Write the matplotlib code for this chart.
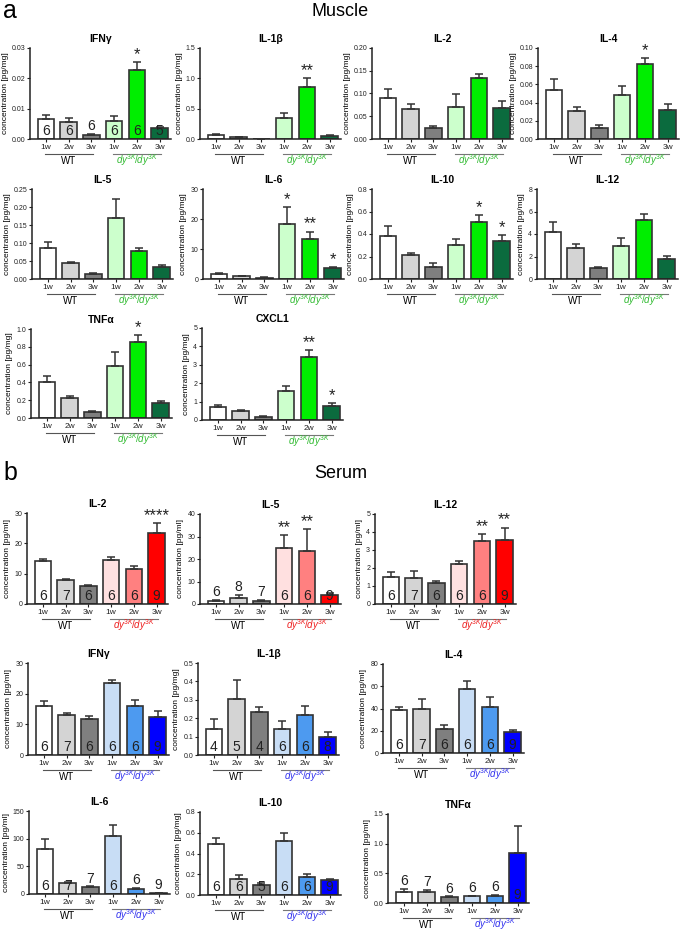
import matplotlib
matplotlib.use("Agg")
import matplotlib.pyplot as plt
from matplotlib.transforms import offset_copy

plt.rcParams['font.family'] = ['Liberation Sans', 'DejaVu Sans']
plt.rcParams['mathtext.fontset'] = 'custom'
plt.rcParams['mathtext.rm'] = 'Liberation Sans'
plt.rcParams['mathtext.it'] = 'Liberation Sans:italic'

weeks = ['1w', '2w', '3w', '1w', '2w', '3w']

# ---- muscle (pg/mg) ----
m_ifng = [0.0066, 0.0056, 0.0013, 0.0060, 0.0229, 0.0035]
m_ifng_sem = [0.0014, 0.0013, 0.0004, 0.0016, 0.0025, 0.0006]
m_il1b = [0.06, 0.025, 0.005, 0.35, 0.85, 0.05]
m_il1b_sem = [0.02, 0.005, 0.003, 0.08, 0.15, 0.01]
m_il2 = [0.091, 0.066, 0.025, 0.071, 0.134, 0.068]
m_il2_sem = [0.019, 0.010, 0.004, 0.027, 0.009, 0.015]
m_il4 = [0.054, 0.031, 0.012, 0.048, 0.082, 0.032]
m_il4_sem = [0.012, 0.004, 0.003, 0.010, 0.007, 0.006]
m_il5 = [0.085, 0.044, 0.015, 0.170, 0.077, 0.033]
m_il5_sem = [0.017, 0.004, 0.002, 0.052, 0.008, 0.006]
m_il6 = [1.8, 0.9, 0.5, 18.2, 13.2, 3.7]
m_il6_sem = [0.2, 0.1, 0.1, 5.8, 2.6, 0.4]
m_il10 = [0.38, 0.21, 0.11, 0.30, 0.51, 0.34]
m_il10_sem = [0.09, 0.02, 0.03, 0.06, 0.06, 0.05]
m_il12 = [4.2, 2.8, 0.95, 2.9, 5.25, 1.75]
m_il12_sem = [0.9, 0.3, 0.1, 0.75, 0.55, 0.3]
m_tnfa = [0.40, 0.23, 0.07, 0.58, 0.85, 0.17]
m_tnfa_sem = [0.07, 0.02, 0.005, 0.16, 0.08, 0.02]
m_cxcl1 = [0.72, 0.48, 0.17, 1.57, 3.42, 0.77]
m_cxcl1_sem = [0.10, 0.04, 0.03, 0.30, 0.38, 0.15]

# ---- serum ----
s_il2 = [14.1, 8.0, 6.0, 14.4, 11.5, 23.3]
s_il2_sem = [0.7, 0.3, 0.2, 1.0, 0.9, 3.5]
s_il5 = [1.4, 2.7, 1.4, 25.0, 23.7, 4.0]
s_il5_sem = [0.3, 1.3, 0.3, 5.6, 9.5, 1.0]
s_il12 = [1.5, 1.47, 1.17, 2.25, 3.48, 3.55]
s_il12_sem = [0.27, 0.36, 0.10, 0.13, 0.40, 0.70]
s_ifng = [16.0, 13.0, 11.6, 23.5, 16.0, 12.3]
s_ifng_sem = [1.5, 0.8, 1.1, 0.9, 1.8, 2.2]
s_il1b = [0.14, 0.305, 0.235, 0.14, 0.215, 0.10]
s_il1b_sem = [0.055, 0.10, 0.027, 0.043, 0.052, 0.024]
s_il4 = [38.5, 39.5, 22.0, 57.5, 41.5, 19.0]
s_il4_sem = [2.5, 9.0, 3.5, 7.5, 8.5, 1.5]
s_il6 = [81, 20, 12, 105, 9.5, 1.5]
s_il6_sem = [18, 2, 2, 19, 1, 1]
s_il10 = [0.49, 0.15, 0.10, 0.52, 0.17, 0.14]
s_il10_sem = [0.06, 0.045, 0.02, 0.075, 0.035, 0.015]
s_tnfa = [0.185, 0.185, 0.095, 0.11, 0.125, 0.85]
s_tnfa_sem = [0.055, 0.035, 0.015, 0.01, 0.01, 0.45]

# animal numbers per bar
n_ifng_m = ['6', '6', '6', '6', '6', '5']
n_std = ['6', '7', '6', '6', '6', '9']
n_il5_s = ['6', '8', '7', '6', '6', '9']
n_il1b_s = ['4', '5', '4', '6', '6', '8']
n_il6_s = ['6', '7', '7', '6', '6', '9']
n_il10_s = ['6', '6', '5', '6', '6', '9']

muscle_colors = ['#ffffff', '#d4d4d4', '#7f7f7f', '#ccffcc', '#00ee00', '#0b6b3e']
red_colors = ['#ffffff', '#d4d4d4', '#7f7f7f', '#ffe0e0', '#ff8080', '#ff0000']
blue_colors = ['#ffffff', '#d4d4d4', '#7f7f7f', '#c8ddf5', '#4d9af0', '#0000ff']

W, H = 685, 932
fig = plt.figure(figsize=(W / 100, H / 100), dpi=100)
EDGE = '#333333'
dy_label = r'$dy^{3K}\!/dy^{3K}$'


def panel(sx, y0, ytop, title, mean, sem, yticks, dec, colors, dycol,
          unit='pg/mg', stars=None, n=None, above=()):
    ax = fig.add_axes([sx / W, 1 - y0 / H, 141 / W, (y0 - ytop) / H])
    x = list(range(6))
    ax.bar(x, mean, width=0.72, color=colors, edgecolor=EDGE, linewidth=1.2, zorder=2)
    ax.errorbar(x, mean, yerr=[[0] * 6, sem], fmt='none', ecolor=EDGE,
                elinewidth=1.1, capsize=3.2, capthick=1.1, zorder=3)
    ax.set_xlim(-0.7, 5.5)
    ax.set_ylim(0, yticks[-1])
    ax.set_yticks(yticks)
    ax.set_yticklabels([f'{t:.{dec}f}' for t in yticks], fontsize=5)
    ax.set_xticks(x)
    ax.set_xticklabels(weeks, fontsize=6)
    ax.tick_params(axis='both', length=2, width=0.8, pad=1.5, colors='#222222')
    for s in ['top', 'right']:
        ax.spines[s].set_visible(False)
    for s in ['left', 'bottom']:
        ax.spines[s].set_linewidth(1.1)
        ax.spines[s].set_color('#222222')
    ax.set_title(title, fontsize=7.5, fontweight='bold', pad=4)
    ax.set_ylabel(f'concentration [{unit}]', fontsize=6, labelpad=2)

    tr = ax.get_xaxis_transform()
    line_tr = offset_copy(tr, fig=fig, y=-11, units='points')
    ax.plot([-0.05, 2.05], [0, 0], transform=line_tr, color='#555555', lw=0.8, clip_on=False)
    ax.plot([2.95, 5.05], [0, 0], transform=line_tr, color='#777777', lw=0.8, clip_on=False)
    txt_tr = offset_copy(tr, fig=fig, y=-18, units='points')
    ax.text(1, 0, 'WT', transform=txt_tr, ha='center', va='baseline', fontsize=7)
    ax.text(4, 0, dy_label, transform=txt_tr, ha='center', va='baseline', fontsize=7, color=dycol)

    tops = [m + s for m, s in zip(mean, sem)]
    if stars:
        for i, st in enumerate(stars):
            if st:
                ax.annotate(st, (i, tops[i]), xytext=(0, 0), textcoords='offset points',
                            ha='center', va='bottom', fontsize=12, color='#222222')
    if n:
        for i, lab in enumerate(n):
            if i in above:
                ax.annotate(lab, (i, tops[i]), xytext=(0, 0.5), textcoords='offset points',
                            ha='center', va='bottom', fontsize=10, color='#222222')
            else:
                ax.annotate(lab, (i, 0), xytext=(0, 0.5), textcoords='offset points',
                            ha='center', va='bottom', fontsize=10, color='#222222')
    return ax


G = '#33bb33'
R = '#ee2222'
B = '#3333ee'

# muscle row 1
panel(30, 139, 48, 'IFN\u03b3', m_ifng, m_ifng_sem, [0, 0.01, 0.02, 0.03], 2, muscle_colors, G,
      stars=['', '', '', '', '*', ''], n=n_ifng_m, above=(2,))
panel(200, 139, 48, 'IL-1\u03b2', m_il1b, m_il1b_sem, [0, 0.5, 1.0, 1.5], 1, muscle_colors, G,
      stars=['', '', '', '', '**', ''])
panel(372, 139, 48, 'IL-2', m_il2, m_il2_sem, [0, 0.05, 0.10, 0.15, 0.20], 2, muscle_colors, G)
panel(538, 139, 48, 'IL-4', m_il4, m_il4_sem, [0, 0.02, 0.04, 0.06, 0.08, 0.10], 2, muscle_colors, G,
      stars=['', '', '', '', '*', ''])
# muscle row 2
panel(32, 279, 189, 'IL-5', m_il5, m_il5_sem, [0, 0.05, 0.10, 0.15, 0.20, 0.25], 2, muscle_colors, G)
panel(203, 279, 189, 'IL-6', m_il6, m_il6_sem, [0, 10, 20, 30], 0, muscle_colors, G,
      stars=['', '', '', '*', '**', '*'])
panel(372, 279, 189, 'IL-10', m_il10, m_il10_sem, [0, 0.2, 0.4, 0.6, 0.8], 1, muscle_colors, G,
      stars=['', '', '', '', '*', '*'])
panel(537, 279, 189, 'IL-12', m_il12, m_il12_sem, [0, 2, 4, 6, 8], 0, muscle_colors, G)
# muscle row 3
panel(31, 418, 329, 'TNF\u03b1', m_tnfa, m_tnfa_sem, [0, 0.2, 0.4, 0.6, 0.8, 1.0], 1, muscle_colors, G,
      stars=['', '', '', '', '*', ''])
panel(202, 420, 328, 'CXCL1', m_cxcl1, m_cxcl1_sem, [0, 1, 2, 3, 4, 5], 0, muscle_colors, G,
      stars=['', '', '', '', '**', '*'])

# serum row 1
panel(27, 604, 513, 'IL-2', s_il2, s_il2_sem, [0, 10, 20, 30], 0, red_colors, R, unit='pg/ml',
      stars=['', '', '', '', '', '****'], n=n_std)
panel(200, 604, 514, 'IL-5', s_il5, s_il5_sem, [0, 10, 20, 30, 40], 0, red_colors, R, unit='pg/ml',
      stars=['', '', '', '**', '**', ''], n=n_il5_s, above=(0, 1, 2))
panel(375, 604, 514, 'IL-12', s_il12, s_il12_sem, [0, 1, 2, 3, 4, 5], 0, red_colors, R, unit='pg/ml',
      stars=['', '', '', '', '**', '**'], n=n_std)
# serum row 2
panel(28, 755, 663, 'IFN\u03b3', s_ifng, s_ifng_sem, [0, 10, 20, 30], 0, blue_colors, B, unit='pg/ml',
      n=n_std)
panel(198, 755, 663, 'IL-1\u03b2', s_il1b, s_il1b_sem, [0, 0.1, 0.2, 0.3, 0.4, 0.5], 1, blue_colors, B,
      n=n_il1b_s)
panel(383, 753, 664, 'IL-4', s_il4, s_il4_sem, [0, 20, 40, 60, 80], 0, blue_colors, B, unit='pg/ml',
      n=n_std)
# serum row 3
panel(29, 894, 811, 'IL-6', s_il6, s_il6_sem, [0, 50, 100, 150], 0, blue_colors, B, unit='pg/ml',
      n=n_il6_s, above=(2, 4, 5))
panel(200, 895, 812, 'IL-10', s_il10, s_il10_sem, [0, 0.2, 0.4, 0.6, 0.8], 1, blue_colors, B,
      n=n_il10_s)
panel(388, 903, 814, 'TNF\u03b1', s_tnfa, s_tnfa_sem, [0, 0.5, 1.0, 1.5], 1, blue_colors, B, unit='pg/ml',
      n=n_std, above=(0, 1, 2, 3, 4))

fig.text(3 / W, 1 - 11 / H, 'a', fontsize=18, va='center', ha='left')
fig.text(340 / W, 1 - 11 / H, 'Muscle', fontsize=13, va='center', ha='center')
fig.text(3 / W, 1 - 473 / H, 'b', fontsize=18, va='center', ha='left')
fig.text(341 / W, 1 - 473 / H, 'Serum', fontsize=13, va='center', ha='center')

fig.savefig('out.png', dpi=100, facecolor='white')
